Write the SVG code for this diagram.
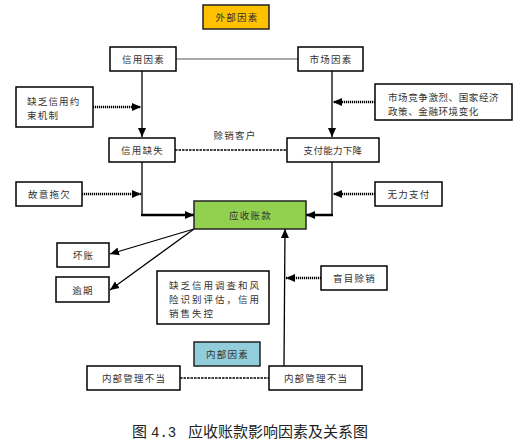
<svg xmlns="http://www.w3.org/2000/svg" width="521" height="445" viewBox="0 0 521 445">
<style>
.box{fill:#fff;stroke:#000;stroke-width:1.5}
.t{font-family:"Noto Sans CJK SC","Noto Sans",sans-serif;font-size:9.5px;letter-spacing:1.2px;fill:#333;text-anchor:middle;dominant-baseline:central}
.tl{font-family:"Noto Sans CJK SC","Noto Sans",sans-serif;font-size:9.5px;letter-spacing:1.2px;fill:#333}
.ln{fill:none;stroke:#000;stroke-width:1.3}
.thick{fill:none;stroke:#000;stroke-width:2.5}
.dot{fill:none;stroke:#000;stroke-width:2.6;stroke-dasharray:1.2 0.8}
.dash{fill:none;stroke:#000;stroke-width:1.5;stroke-dasharray:2.5 1}
</style>
<defs>
<marker id="ah" markerUnits="userSpaceOnUse" markerWidth="10" markerHeight="10" viewBox="0 0 10 10" refX="9" refY="5" orient="auto">
<path d="M0,1 L9,5 L0,9 Z" fill="#000"/>
</marker>
</defs>
<rect width="521" height="445" fill="#fff"/>

<g id="connectors">
<line x1="176" y1="59" x2="298" y2="59" stroke="#555" stroke-width="1.2"/>
<line class="ln" x1="142" y1="71" x2="142" y2="137" marker-end="url(#ah)"/>
<line class="ln" x1="332" y1="71" x2="332" y2="137" marker-end="url(#ah)"/>
<line class="dot" x1="93" y1="107" x2="141" y2="107" marker-end="url(#ah)"/>
<line class="dot" x1="375" y1="102" x2="333" y2="102" marker-end="url(#ah)"/>
<line class="dash" x1="175" y1="150" x2="287" y2="150"/>
<polyline class="ln" points="142,162 142,215"/>
<line class="thick" x1="141" y1="215" x2="194" y2="215" marker-end="url(#ah)"/>
<polyline class="ln" points="332,162 332,215"/>
<line class="thick" x1="333" y1="215" x2="306" y2="215" marker-end="url(#ah)"/>
<line class="dot" x1="82" y1="194" x2="141" y2="194" marker-end="url(#ah)"/>
<line class="dot" x1="375" y1="194" x2="333" y2="194" marker-end="url(#ah)"/>
<line class="ln" x1="194" y1="229" x2="110" y2="254" marker-end="url(#ah)"/>
<line class="ln" x1="194" y1="229" x2="110" y2="290" marker-end="url(#ah)"/>
<line class="ln" x1="284" y1="366" x2="285" y2="229" marker-end="url(#ah)"/>
<line class="dot" x1="321" y1="278" x2="286" y2="278" marker-end="url(#ah)"/>
<line class="dash" x1="180" y1="378" x2="269" y2="378"/>
</g>

<g id="n-external">
<rect x="203" y="5" width="66" height="24" fill="#FFC000" stroke="#222" stroke-width="1.5"/>
<text class="t" x="237" y="17">外部因素</text>
</g>
<g id="n-credit-factor">
<rect class="box" x="110" y="47" width="66" height="24"/>
<text class="t" x="143.5" y="59">信用因素</text>
</g>
<g id="n-market-factor">
<rect class="box" x="298" y="47" width="65" height="24"/>
<text class="t" x="331" y="59">市场因素</text>
</g>
<g id="n-lack-constraint">
<rect class="box" x="16" y="87" width="77" height="40"/>
<text class="tl" x="27" y="101" dominant-baseline="central">缺乏信用约</text>
<text class="tl" x="27" y="115" dominant-baseline="central">束机制</text>
</g>
<g id="n-market-env">
<rect class="box" x="375" y="84" width="137" height="36"/>
<text class="tl" x="388" y="97" dominant-baseline="central" style="letter-spacing:0.6px">市场竞争激烈、国家经济</text>
<text class="tl" x="388" y="111" dominant-baseline="central" style="letter-spacing:0.6px">政策、金融环境变化</text>
</g>
<g id="n-credit-loss">
<rect class="box" x="109" y="138" width="66" height="24"/>
<text class="t" x="142.5" y="150">信用缺失</text>
</g>
<g id="n-pay-decline">
<rect class="box" x="287" y="138" width="92" height="24"/>
<text class="t" x="333" y="150" style="letter-spacing:0.3px">支付能力下降</text>
</g>
<text class="t" x="235" y="135">赊销客户</text>
<g id="n-deliberate">
<rect class="box" x="16" y="182" width="66" height="24"/>
<text class="t" x="49.5" y="194">故意拖欠</text>
</g>
<g id="n-unable">
<rect class="box" x="375" y="182" width="67" height="24"/>
<text class="t" x="409" y="194">无力支付</text>
</g>
<g id="n-receivable">
<rect x="194" y="201" width="112" height="28" fill="#92D050" stroke="#222" stroke-width="1.5"/>
<text class="t" x="250.5" y="215">应收账款</text>
</g>
<g id="n-bad-debt">
<rect class="box" x="57" y="243" width="52" height="24"/>
<text class="t" x="83.5" y="255">坏账</text>
</g>
<g id="n-overdue">
<rect class="box" x="56" y="277" width="53" height="25"/>
<text class="t" x="83" y="289.5">逾期</text>
</g>
<g id="n-lack-investigation">
<rect class="box" x="157" y="271" width="112" height="53"/>
<text class="tl" x="169" y="285" dominant-baseline="central" style="letter-spacing:2px">缺乏信用调查和风</text>
<text class="tl" x="169" y="299" dominant-baseline="central" style="letter-spacing:2px">险识别评估，信用</text>
<text class="tl" x="169" y="313" dominant-baseline="central" style="letter-spacing:2px">销售失控</text>
</g>
<g id="n-blind">
<rect class="box" x="321" y="266" width="66" height="24"/>
<text class="t" x="354.5" y="278">盲目赊销</text>
</g>
<g id="n-internal">
<rect x="194" y="342" width="66" height="24" fill="#92CDDC" stroke="#222" stroke-width="1.5"/>
<text class="t" x="227.5" y="354">内部因素</text>
</g>
<g id="n-mgmt-left">
<rect class="box" x="87" y="366" width="93" height="24"/>
<text class="t" x="134" y="378">内部管理不当</text>
</g>
<g id="n-mgmt-right">
<rect class="box" x="269" y="366" width="93" height="24"/>
<text class="t" x="316" y="378">内部管理不当</text>
</g>

<text x="132" y="437" font-family="'Liberation Serif','Noto Sans CJK SC',serif" font-size="15" fill="#222"><tspan>图</tspan><tspan x="151" font-family="'Liberation Mono',monospace" font-size="14">4.3</tspan><tspan x="188" font-family="'Noto Sans CJK SC',sans-serif">应收账款影响因素及关系图</tspan></text>
</svg>
